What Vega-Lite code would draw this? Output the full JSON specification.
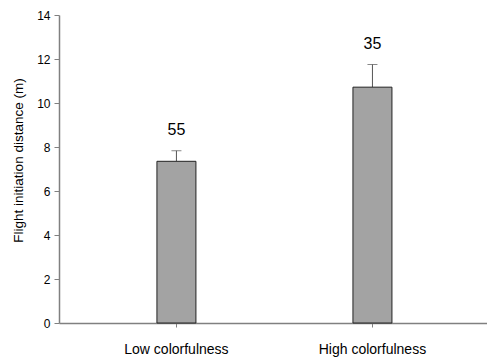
{
  "$schema": "https://vega.github.io/schema/vega-lite/v6.json",
  "width": 428,
  "height": 308,
  "autosize": "none",
  "padding": {"left": 59, "top": 15, "right": 0, "bottom": 35},
  "background": "white",
  "config": {
    "view": {"stroke": null},
    "font": "Liberation Sans",
    "axis": {"grid": false, "domainColor": "#808080", "tickColor": "#808080", "labelColor": "#000", "titleColor": "#000", "labelFont": "Liberation Sans", "titleFont": "Liberation Sans", "titleFontWeight": "normal"}
  },
  "data": {
    "values": [
      {"group": "Low colorfulness", "mean": 7.35, "upper": 7.83, "n": "55"},
      {"group": "High colorfulness", "mean": 10.72, "upper": 11.75, "n": "35"}
    ]
  },
  "encoding": {
    "x": {
      "field": "group", "type": "nominal", "sort": null,
      "scale": {"paddingInner": 0, "paddingOuter": 0.0918, "align": 0.54},
      "axis": {"title": null, "labelAngle": 0, "labelFontSize": 14, "labelPadding": 15, "tickSize": 4, "domainWidth": 1.5}
    }
  },
  "layer": [
    {
      "mark": {"type": "rule", "color": "#555", "strokeWidth": 1},
      "encoding": {
        "y": {"field": "mean", "type": "quantitative"},
        "y2": {"field": "upper"}
      }
    },
    {
      "mark": {"type": "tick", "color": "#555", "size": 10, "thickness": 1},
      "encoding": {"y": {"field": "upper", "type": "quantitative"}}
    },
    {
      "mark": {"type": "bar", "size": 39, "fill": "#a3a3a3", "stroke": "#222", "strokeWidth": 1},
      "encoding": {
        "y": {
          "field": "mean", "type": "quantitative",
          "scale": {"domain": [0, 14]},
          "axis": {"title": "Flight initiation distance (m)", "values": [0, 2, 4, 6, 8, 10, 12, 14], "labelFontSize": 12, "titleFontSize": 13.5, "tickSize": 5, "labelPadding": 4, "titleX": -41, "titleY": 145, "titleAngle": -90, "titleAlign": "center", "titleBaseline": "middle", "domainWidth": 1.5}
        }
      }
    },
    {
      "mark": {"type": "text", "fontSize": 16, "baseline": "bottom", "dy": -13, "color": "#000"},
      "encoding": {
        "y": {"field": "upper", "type": "quantitative"},
        "text": {"field": "n"}
      }
    }
  ]
}
